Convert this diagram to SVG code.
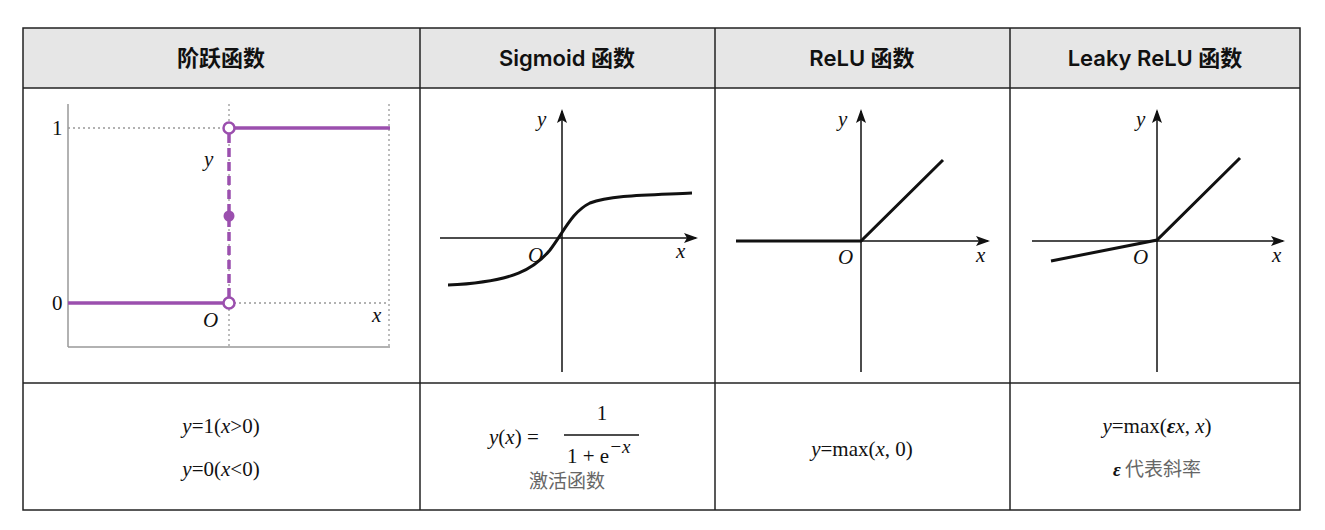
<svg xmlns="http://www.w3.org/2000/svg" width="1325" height="530" viewBox="0 0 1325 530">
<style>
.h{font-family:"Inter","Noto Sans CJK SC",sans-serif;font-size:22px;font-weight:600;text-anchor:middle;fill:#111}
.m{font-family:"Liberation Serif",serif;font-size:21px;fill:#111}
.i{font-style:italic}
.g{stroke:#999;stroke-dasharray:2 3;stroke-width:1.3;fill:none}
.ax{stroke:#111;stroke-width:1.5;fill:none}
.c{stroke:#111;stroke-width:3;fill:none}
.p{stroke:#9b4fae;stroke-width:3.5;fill:none}
.cj{font-family:"Noto Sans CJK SC",serif;font-size:19px;fill:#666}
</style>
<defs><marker id="a" markerWidth="14" markerHeight="10" refX="12" refY="5" orient="auto" markerUnits="userSpaceOnUse"><path d="M0,0 L14,5 L0,10 L3,5 Z" fill="#111"/></marker></defs>
<g id="table">
<rect x="0" y="0" width="1325" height="530" fill="#fff"/>
<rect x="23" y="28" width="1277" height="60" fill="#e6e6e6"/>
<rect x="23" y="28" width="1277" height="482" fill="none" stroke="#222" stroke-width="1.5"/>
<line x1="23" y1="88" x2="1300" y2="88" stroke="#222" stroke-width="1.5"/>
<line x1="23" y1="383" x2="1300" y2="383" stroke="#222" stroke-width="1.5"/>
<line x1="420" y1="28" x2="420" y2="510" stroke="#222" stroke-width="1.5"/>
<line x1="715" y1="28" x2="715" y2="510" stroke="#222" stroke-width="1.5"/>
<line x1="1010" y1="28" x2="1010" y2="510" stroke="#222" stroke-width="1.5"/>
<text class="h" x="221" y="66">阶跃函数</text>
<text class="h" x="567" y="66">Sigmoid 函数</text>
<text class="h" x="862" y="66">ReLU 函数</text>
<text class="h" x="1155" y="66">Leaky ReLU 函数</text>
</g>
<g id="step">
<line class="g" x1="68" y1="128" x2="229" y2="128"/>
<line class="g" x1="229" y1="303" x2="389" y2="303"/>
<line class="g" x1="229" y1="104" x2="229" y2="347"/>
<line class="g" x1="389" y1="104" x2="389" y2="347"/>
<line x1="68" y1="104" x2="68" y2="347" stroke="#999" stroke-width="1.5"/>
<line x1="68" y1="347" x2="390" y2="347" stroke="#999" stroke-width="1.5"/>
<line class="p" x1="68" y1="303" x2="224" y2="303"/>
<line class="p" x1="234" y1="128" x2="390" y2="128"/>
<line class="p" x1="229" y1="134" x2="229" y2="297" stroke-dasharray="9 5"/>
<circle cx="229" cy="216" r="5.5" fill="#9b4fae"/>
<circle cx="229" cy="128" r="5.5" fill="#fff" stroke="#9b4fae" stroke-width="2.5"/>
<circle cx="229" cy="303" r="5.5" fill="#fff" stroke="#9b4fae" stroke-width="2.5"/>
<text class="m" x="52" y="135">1</text>
<text class="m" x="52" y="310">0</text>
<text class="m i" x="204" y="166">y</text>
<text class="m i" x="203" y="327">O</text>
<text class="m i" x="372" y="322">x</text>
</g>
<g id="sigmoid">
<line class="ax" x1="440" y1="238" x2="696" y2="238" marker-end="url(#a)"/>
<line class="ax" x1="562" y1="372" x2="562" y2="111" marker-end="url(#a)"/>
<path class="c" d="M448,285 C515,282 535,268 550,250 C565,230 572,212 590,203 C610,195 650,195 692,193"/>
<text class="m i" x="537" y="126">y</text>
<text class="m i" x="528" y="262">O</text>
<text class="m i" x="676" y="258">x</text>
</g>
<g id="relu">
<line class="ax" x1="736" y1="241" x2="988" y2="241" marker-end="url(#a)"/>
<line class="ax" x1="861" y1="372" x2="861" y2="111" marker-end="url(#a)"/>
<path class="c" d="M736,241 L861,241 L943,160"/>
<text class="m i" x="838" y="126">y</text>
<text class="m i" x="838" y="264">O</text>
<text class="m i" x="976" y="262">x</text>
</g>
<g id="leaky">
<line class="ax" x1="1032" y1="241" x2="1283" y2="241" marker-end="url(#a)"/>
<line class="ax" x1="1157" y1="372" x2="1157" y2="111" marker-end="url(#a)"/>
<path class="c" d="M1051,261 L1157,240 L1240,158"/>
<text class="m i" x="1136" y="126">y</text>
<text class="m i" x="1133" y="264">O</text>
<text class="m i" x="1272" y="262">x</text>
</g>
<g id="formulas">
<text class="m" x="221" y="433" text-anchor="middle"><tspan class="i">y</tspan>=1(<tspan class="i">x</tspan>&gt;0)</text>
<text class="m" x="221" y="476" text-anchor="middle"><tspan class="i">y</tspan>=0(<tspan class="i">x</tspan>&lt;0)</text>
<text class="m" x="489" y="444" font-size="23"><tspan class="i">y</tspan>(<tspan class="i">x</tspan>) =</text>
<text class="m" x="602" y="420" font-size="23" text-anchor="middle">1</text>
<line x1="564" y1="435" x2="639" y2="435" stroke="#111" stroke-width="1.3"/>
<text class="m" x="567" y="463" font-size="23">1 + e<tspan class="i" font-size="19" dy="-10">−x</tspan></text>
<text class="cj" x="567" y="488" text-anchor="middle">激活函数</text>
<text class="m" x="862" y="456" text-anchor="middle"><tspan class="i">y</tspan>=max(<tspan class="i">x</tspan>, 0)</text>
<text class="m" x="1157" y="433" text-anchor="middle"><tspan class="i">y</tspan>=max(<tspan class="i" font-weight="bold">ε</tspan><tspan class="i">x</tspan>, <tspan class="i">x</tspan>)</text>
<text class="cj" x="1157" y="476" text-anchor="middle"><tspan font-family="Liberation Serif" font-style="italic" font-weight="bold" fill="#111">ε</tspan> 代表斜率</text>
</g>
</svg>
